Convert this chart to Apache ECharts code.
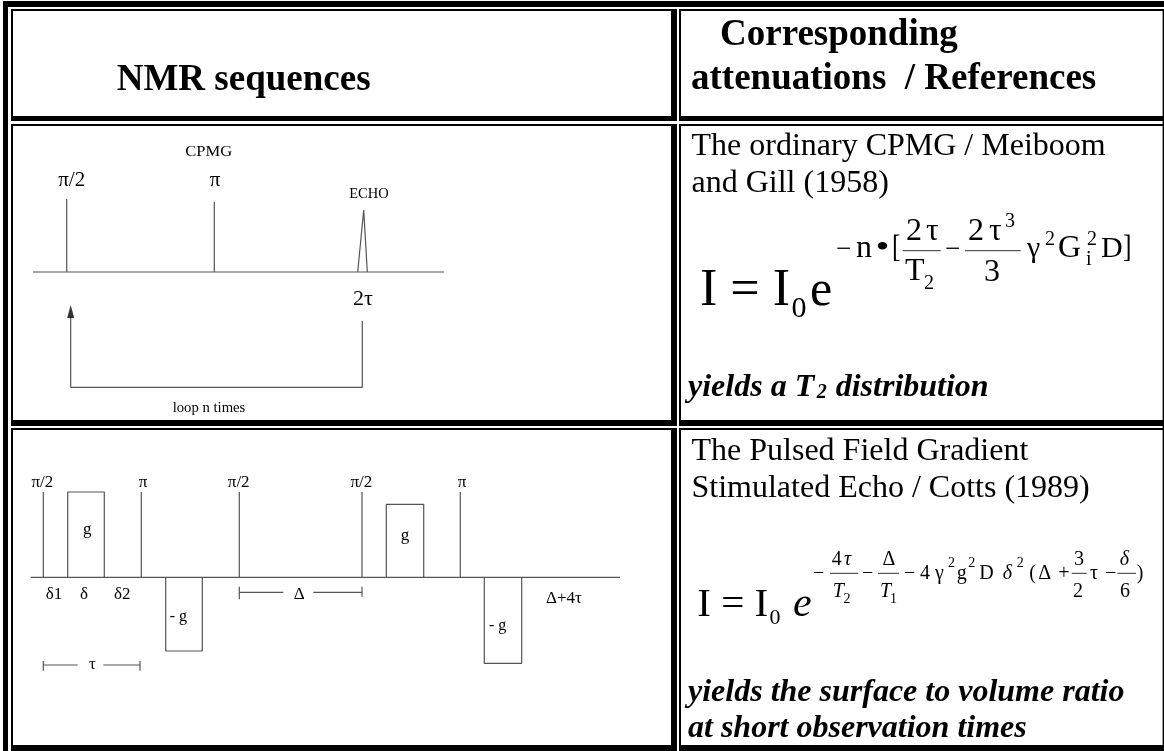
<!DOCTYPE html>
<html><head><meta charset="utf-8">
<style>html,body{margin:0;padding:0;background:#fff}#c{width:1164px;height:751px}</style>
<script src="https://cdn.jsdelivr.net/npm/echarts@6/dist/echarts.min.js"></script>
</head><body><div id="c"></div>
<script>
// ---- text content ----
const headerTitles = ['NMR sequences', 'Corresponding', 'attenuations  / References'];
const cpmgRefLines = ['The ordinary CPMG / Meiboom', 'and Gill (1958)'];
const pfgRefLines = ['The Pulsed Field Gradient', 'Stimulated Echo / Cotts (1989)'];
const cpmgYield = ['yields a T', '2', 'distribution'];
const pfgYield = ['yields the surface to volume ratio', 'at short observation times'];
const cpmgLabels = ['CPMG', 'π/2', 'π', 'ECHO', '2τ', 'loop n times'];
const pfgLabels = ['π/2', 'π', 'π/2', 'π/2', 'π', 'g', 'g', '- g', '- g', 'δ1', 'δ', 'δ2', 'Δ', 'τ', 'Δ+4τ'];

// ---- pulse sequence values, read in chart units ----
const cpmgAxis = [33, 444];
const cpmgPulses = [66.7, 214.3];
const cpmgPulseTops = [199, 201.7];
const cpmgEchoX = [357.7, 363.7, 367.3];
const cpmgEchoTop = [210];
const cpmgLoopX = [362.3, 70.7];
const cpmgLoopY = [321, 387.3, 317];

const pfgAxis = [30.7, 620];
const pfgPulses = [43.3, 141.3, 239.3, 362, 460.3];
const pfgGradX = [[67.7, 104.3], [165.7, 202.3], [386.3, 423.7], [484.3, 521.7]];
const pfgGradEnd = [492, 651, 504.3, 663.3];
const pfgDeltaSpan = [239.3, 283.3, 313.3, 362];
const pfgTauSpan = [43.3, 77.7, 103.3, 140];

// ---- table frame bands [x0,y0,x1,y1] ----
const frameBands = [
  [3,1,8,751],[3,1,1164,7],
  [11,9,671,11],[11,9,13,116],[671,9,677,121],[11,116,677,121],
  [11,124,671,126],[11,124,13,426],[671,124,677,426],[11,420,677,426],
  [11,428,671,430],[11,428,13,745],[671,428,677,751],[11,745,677,751],
  [679,9,1164,11],[679,9,681,116],[1162.6,9,1164,751],[679,116,1164,121],
  [679,124,1164,126],[679,124,681,420],[679,420,1164,426],
  [679,428,1164,430],[679,428,681,745],[679,745,1164,751]
];

const fontName = '"Liberation Serif"';
const runs = [];
function T(x, y, text, size, o) { runs.push(Object.assign({x, y, text, size}, o || {})); }
const C = {align:'center'};
const B = {weight:'bold'};
const BI = {weight:'bold', italic:true};
const I = {italic:true};

// headers
T(116.7, 89.5, headerTitles[0], 37, B);
T(720, 45, headerTitles[1], 37, B);
T(691, 88.3, headerTitles[2], 37, B);
// right column text
T(691.5, 155, cpmgRefLines[0], 32);
T(691.5, 191.7, cpmgRefLines[1], 32);
T(688, 395.7, cpmgYield[0], 32, BI);
T(816.7, 398.3, cpmgYield[1], 20, BI);
T(835.7, 395.7, cpmgYield[2], 32, BI);
T(691.5, 459.3, pfgRefLines[0], 32);
T(691.5, 496.7, pfgRefLines[1], 32);
T(688, 701, pfgYield[0], 32, BI);
T(688, 736.7, pfgYield[1], 32, BI);
// formula 1
T(700, 304.7, 'I = I', 52);
T(799, 317, '0', 30, C);
T(810, 304.7, 'e', 50);
T(836, 256.7, '−', 27);
T(856, 256.7, 'n', 32);
T(875.5, 256.7, '•', 32, {sx:1.25});
T(892, 256.7, '[', 32, {sx:0.8});
T(906, 240, '2', 32); T(926, 240, 'τ', 32);
T(905, 280, 'T', 32); T(924, 289, '2', 20);
T(945, 256.7, '−', 27);
T(968, 240, '2', 32); T(989, 240, 'τ', 32); T(1005, 226.7, '3', 20);
T(992, 281, '3', 32, C);
T(1027, 256.7, 'γ', 30);
T(1045, 245, '2', 20);
T(1058, 256.7, 'G', 32);
T(1087, 245, '2', 20);
T(1086, 265, 'i', 20);
T(1101, 256.7, 'D', 30);
T(1123, 256.7, ']', 32, {sx:0.8});
// formula 2
T(697.3, 615, 'I = I', 41);
T(775, 624, '0', 22, C);
T(793, 615, 'e', 42, I);
T(813, 578.3, '−', 20);
T(831.7, 564.3, '4', 20); T(844, 564.3, 'τ', 20, I);
T(832.7, 596.7, 'T', 20, I); T(843.5, 602.7, '2', 14);
T(862, 578.3, '−', 20);
T(889, 564.3, 'Δ', 20, C);
T(880, 596.7, 'T', 20, I); T(890, 602.7, '1', 14);
T(904, 578.3, '−', 20);
T(920, 578.3, '4', 20);
T(935, 578.3, 'γ', 20);
T(948, 566.7, '2', 14);
T(956.7, 578.3, 'g', 20);
T(968.3, 566.7, '2', 14);
T(979.3, 578.3, 'D', 20);
T(1002.7, 578.3, 'δ', 20, I);
T(1016.7, 566.7, '2', 14);
T(1029.3, 578.3, '(', 20);
T(1038.3, 578.3, 'Δ', 20);
T(1058.3, 578.3, '+', 20);
T(1079, 564.3, '3', 20, C);
T(1078, 596.7, '2', 20, C);
T(1090, 578.3, 'τ', 20);
T(1105, 578.3, '−', 20);
T(1124.3, 564.3, 'δ', 20, {align:'center', italic:true});
T(1125, 596.7, '6', 20, C);
T(1136.7, 578.3, ')', 20);
// CPMG diagram labels
T(208.7, 156, cpmgLabels[0], 14.5, {align:'center', sx:1.14});
T(71.7, 185.7, cpmgLabels[1], 21, C);
T(215, 185.7, cpmgLabels[2], 21, C);
T(369, 197.7, cpmgLabels[3], 14.5, C);
T(363, 305, cpmgLabels[4], 22, C);
T(209, 411.7, cpmgLabels[5], 14, {align:'center', sx:1.05});
// PFG diagram labels
const ty = 486.7;
T(42.3, ty, pfgLabels[0], 17, C);
T(143, ty, pfgLabels[1], 17, C);
T(238.7, ty, pfgLabels[2], 17, C);
T(361.3, ty, pfgLabels[3], 17, C);
T(462, ty, pfgLabels[4], 17, C);
T(87.3, 534, pfgLabels[5], 17, C);
T(405, 539.3, pfgLabels[6], 17, C);
T(178.3, 620.7, pfgLabels[7], 16, C);
T(497.7, 629.3, pfgLabels[8], 16, C);
T(54, 599, pfgLabels[9], 17, C);
T(84, 599, pfgLabels[10], 17, C);
T(122.3, 599, pfgLabels[11], 17, C);
T(299.3, 599, pfgLabels[12], 17, C);
T(92.3, 669, pfgLabels[13], 17, C);
T(564, 602.3, pfgLabels[14], 17, C);

// fraction bars drawn as lines
const fractionBars = [
  [902.7, 940.7, 250.7], [965, 1020.7, 250.7],
  [830, 858.3, 573.3], [878, 899, 573.3], [1071.7, 1086.7, 573.3], [1117.3, 1136, 573.3]
];

const lineColor = '#555';
function seg(points, w, color) {
  return {type:'line', data:points, symbol:'none', silent:true, animation:false, z:3,
    lineStyle:{color:color||lineColor, width:w||1.2}};
}
const series = [];
// frame
series.push({type:'custom', silent:true, animation:false, z:2,
  data:frameBands, encode:{x:[0,2], y:[1,3]},
  renderItem(params, api) {
    const a = api.coord([api.value(0), api.value(1)]);
    const b = api.coord([api.value(2), api.value(3)]);
    return {type:'rect', shape:{x:a[0], y:a[1], width:b[0]-a[0], height:b[1]-a[1]}, style:{fill:'#000'}};
  }});
// CPMG
const cY = 272;
series.push(seg([[cpmgAxis[0],cY],[cpmgAxis[1],cY]]));
cpmgPulses.forEach((t,i)=>series.push(seg([[t,cY],[t,cpmgPulseTops[i]]])));
series.push(seg([[cpmgEchoX[0],cY],[cpmgEchoX[1],cpmgEchoTop[0]],[cpmgEchoX[2],cY]]));
series.push(seg([[cpmgLoopX[0],cpmgLoopY[0]],[cpmgLoopX[0],cpmgLoopY[1]],[cpmgLoopX[1],cpmgLoopY[1]],[cpmgLoopX[1],cpmgLoopY[2]]]));
series.push({type:'scatter', silent:true, animation:false, z:4, symbol:'triangle', symbolSize:[7,13],
  data:[[cpmgLoopX[1],311.5]], itemStyle:{color:'#000'}});
// PFG
const pY = 577.3;
series.push(seg([[pfgAxis[0],pY],[pfgAxis[1],pY]]));
pfgPulses.forEach(t=>series.push(seg([[t,pY],[t,492]])));
pfgGradX.forEach((g,i)=>series.push(seg([[g[0],pY],[g[0],pfgGradEnd[i]],[g[1],pfgGradEnd[i]],[g[1],pY]])));
const dY = 592.3, tY = 665;
series.push(seg([[pfgDeltaSpan[0],586.7],[pfgDeltaSpan[0],599.3]]));
series.push(seg([[pfgDeltaSpan[0],dY],[pfgDeltaSpan[1],dY]]));
series.push(seg([[pfgDeltaSpan[2],dY],[pfgDeltaSpan[3],dY]]));
series.push(seg([[pfgDeltaSpan[3],586.7],[pfgDeltaSpan[3],596.7]]));
series.push(seg([[pfgTauSpan[0],661],[pfgTauSpan[0],670.7]]));
series.push(seg([[pfgTauSpan[0],tY],[pfgTauSpan[1],tY]]));
series.push(seg([[pfgTauSpan[2],tY],[pfgTauSpan[3],tY]]));
series.push(seg([[pfgTauSpan[3],661],[pfgTauSpan[3],670.7]]));
// fraction bars
fractionBars.forEach(f=>series.push(seg([[f[0],f[2]],[f[1],f[2]]],1,'#333')));
// texts
series.push({type:'custom', silent:true, animation:false, z:5,
  data:runs.map(r=>[r.x,r.y]), encode:{x:0,y:1},
  renderItem(params, api) {
    const r = runs[params.dataIndex];
    const p = api.coord([r.x, r.y - 0.25*r.size]);
    return {type:'text', x:p[0], y:p[1], scaleX:r.sx||1, style:{
      text:r.text, x:0, y:0, fill:'#000',
      font:(r.italic?'italic ':'')+(r.weight?r.weight+' ':'')+r.size+'px '+fontName,
      align:r.align||'left', verticalAlign:'middle'}};
  }});

const chart = echarts.init(document.getElementById('c'), null, {renderer:'canvas'});
chart.setOption({
  backgroundColor:'#fff', animation:false,
  grid:{left:0,right:0,top:0,bottom:0,containLabel:false},
  xAxis:{type:'value',min:0,max:1164,show:false},
  yAxis:{type:'value',min:0,max:751,inverse:true,show:false},
  series
});
</script></body></html>
